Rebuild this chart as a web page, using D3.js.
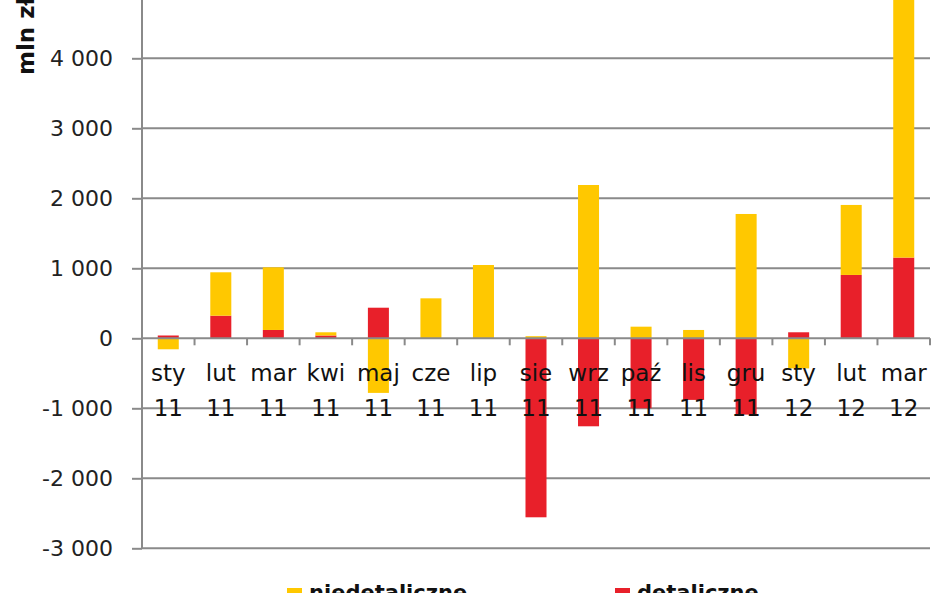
<!DOCTYPE html>
<html>
<head>
<meta charset="utf-8">
<script src="https://cdn.jsdelivr.net/npm/d3@7"></script>
<style>
  html, body { margin: 0; padding: 0; background: #fff; }
  svg { display: block; }
</style>
</head>
<body>
<svg id="chart" width="948" height="593"></svg>
<script>
const categories = ["sty 11","lut 11","mar 11","kwi 11","maj 11","cze 11","lip 11","sie 11","wrz 11","paź 11","lis 11","gru 11","sty 12","lut 12","mar 12"];
const detaliczne = [40, 323, 119, 40, 437, 0, 0, -2557, -1257, -1000, -880, -1090, 86, 905, 1153];
const niedetaliczne = [-157, 620, 895, 46, -780, 571, 1047, 30, 2190, 166, 119, 1776, -430, 1000, 3900];
const yTicks = [-3000, -2000, -1000, 0, 1000, 2000, 3000, 4000, 5000];
const seriesNames = ["niedetaliczne", "detaliczne"];
const colors = { niedetaliczne: "#FFC800", detaliczne: "#E8202A" };

const svg = d3.select("#chart");
const left = 142, right = 930;

const x = d3.scaleBand().domain(categories).range([left, right]).paddingInner(0.6).paddingOuter(0.3);
const y = d3.scaleLinear().domain([-3000, 5000]).range([548.3, -11.7]);

const fmt = v => d3.format(",")(v).replace(/,/g, " ").replace("\u2212", "-");

// gridlines
svg.append("g").selectAll("line").data(yTicks.filter(t => t !== 0)).join("line")
  .attr("x1", left).attr("x2", right)
  .attr("y1", d => y(d)).attr("y2", d => y(d))
  .attr("stroke", "#8a8a8a").attr("stroke-width", 2);

// y axis
const yAxis = d3.axisLeft(y).tickValues(yTicks).tickSize(10).tickFormat(fmt);
const gy = svg.append("g").attr("transform", `translate(${left},0)`).call(yAxis);
gy.select(".domain").attr("stroke", "#8a8a8a").attr("stroke-width", 2).attr("d", `M0,${y(5000)}V${y(-3000)}`);
gy.selectAll(".tick line").attr("stroke", "#8a8a8a").attr("stroke-width", 2);
gy.selectAll(".tick text").attr("x", -29).attr("font-family", "DejaVu Sans").attr("font-size", 22).attr("fill", "#222");

// stacked bars
const table = categories.map((c, i) => ({ cat: c, detaliczne: detaliczne[i], niedetaliczne: niedetaliczne[i] }));
const stack = d3.stack().keys(["detaliczne", "niedetaliczne"]).offset(d3.stackOffsetDiverging);
const stacked = stack(table);
svg.append("g").selectAll("g").data(stacked).join("g")
  .attr("fill", d => colors[d.key])
  .selectAll("rect").data(d => d).join("rect")
  .attr("x", d => x(d.data.cat))
  .attr("width", x.bandwidth())
  .attr("y", d => y(Math.max(d[0], d[1])))
  .attr("height", d => Math.abs(y(d[0]) - y(d[1])));

// category axis at zero
const bounds = d3.range(categories.length + 1).map(i => left + i * (right - left) / categories.length);
const gx = svg.append("g");
gx.append("line").attr("x1", left).attr("x2", right).attr("y1", y(0)).attr("y2", y(0))
  .attr("stroke", "#8a8a8a").attr("stroke-width", 2);
gx.selectAll("line.t").data(bounds.slice(1)).join("line").attr("class", "t")
  .attr("x1", d => d).attr("x2", d => d).attr("y1", y(0)).attr("y2", y(0) + 7)
  .attr("stroke", "#8a8a8a").attr("stroke-width", 2);

// category labels
const lab = svg.append("g").attr("font-family", "DejaVu Sans").attr("font-size", 23).attr("fill", "#111").attr("text-anchor", "middle");
categories.forEach(c => {
  const [m, yr] = c.split(" ");
  const cx = x(c) + x.bandwidth() / 2;
  lab.append("text").attr("x", cx).attr("y", 381).text(m);
  lab.append("text").attr("x", cx).attr("y", 416).text(yr);
});

// y title
svg.append("text").attr("transform", "translate(34,75) rotate(-90)")
  .attr("font-family", "DejaVu Sans").attr("font-weight", "bold").attr("font-size", 23)
  .attr("fill", "#111").text("mln zł");

// legend
const legX = [287, 615];
const lg = svg.append("g");
seriesNames.forEach((n, i) => {
  lg.append("rect").attr("x", legX[i]).attr("y", 588).attr("width", 15).attr("height", 15).attr("fill", colors[n]);
  lg.append("text").attr("x", legX[i] + 22).attr("y", 600).attr("font-family", "DejaVu Sans")
    .attr("font-weight", "bold").attr("font-size", 21).attr("fill", "#111").text(n);
});
</script>
</body>
</html>
